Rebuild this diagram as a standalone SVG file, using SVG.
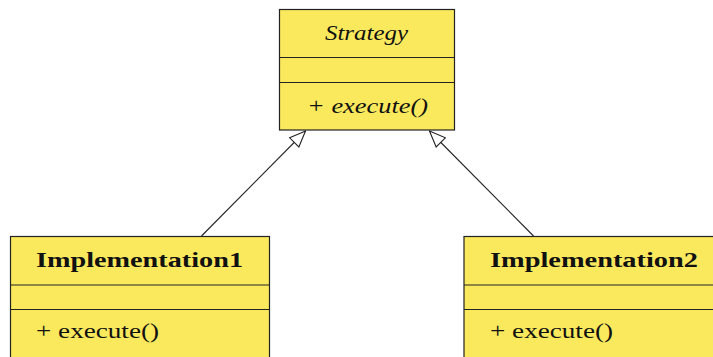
<svg xmlns="http://www.w3.org/2000/svg" width="713" height="357" viewBox="0 0 713 357">
<style>
.box{fill:#fbe95d;stroke:#222;stroke-width:1.2}
.div{stroke:#222;stroke-width:1.2}
.t{font-family:"Liberation Serif","DejaVu Serif",serif;font-size:21px;fill:#111}
.it{font-style:italic}
.b{font-weight:bold}
.conn{stroke:#222;stroke-width:1.1;fill:none}
</style>
<defs>
<marker id="tri" viewBox="0 0 18 15" refX="17" refY="7.5" markerWidth="18" markerHeight="15" markerUnits="userSpaceOnUse" orient="auto">
<path d="M1,1 L17,7.5 L1,14 Z" fill="#fff" stroke="#222" stroke-width="1.1"/>
</marker>
</defs>
<rect width="713" height="357" fill="#fff"/>
<g id="connectors">
<line class="conn" x1="201.5" y1="236" x2="305.5" y2="131" marker-end="url(#tri)"/>
<line class="conn" x1="533.5" y1="236" x2="429.5" y2="131" marker-end="url(#tri)"/>
</g>
<g id="strategy">
<rect class="box" x="279.5" y="9.5" width="175" height="120.5"/>
<line class="div" x1="279.5" y1="57.5" x2="454.5" y2="57.5"/>
<line class="div" x1="279.5" y1="82.5" x2="454.5" y2="82.5"/>
<text class="t it" x="325" y="40" textLength="83" lengthAdjust="spacingAndGlyphs">Strategy</text>
<text class="t it" x="307" y="113" textLength="121" lengthAdjust="spacingAndGlyphs">+ execute()</text>
</g>
<g id="implementation1">
<rect class="box" x="10.5" y="236.5" width="259" height="130"/>
<line class="div" x1="10.5" y1="285" x2="269.5" y2="285"/>
<line class="div" x1="10.5" y1="309.5" x2="269.5" y2="309.5"/>
<text class="t b" x="36" y="267" textLength="207" lengthAdjust="spacingAndGlyphs">Implementation1</text>
<text class="t" x="36" y="338" textLength="123" lengthAdjust="spacingAndGlyphs">+ execute()</text>
</g>
<g id="implementation2">
<rect class="box" x="464" y="236.5" width="259" height="130"/>
<line class="div" x1="464" y1="285" x2="723" y2="285"/>
<line class="div" x1="464" y1="309.5" x2="723" y2="309.5"/>
<text class="t b" x="490" y="267" textLength="208" lengthAdjust="spacingAndGlyphs">Implementation2</text>
<text class="t" x="490" y="338" textLength="123" lengthAdjust="spacingAndGlyphs">+ execute()</text>
</g>
</svg>
